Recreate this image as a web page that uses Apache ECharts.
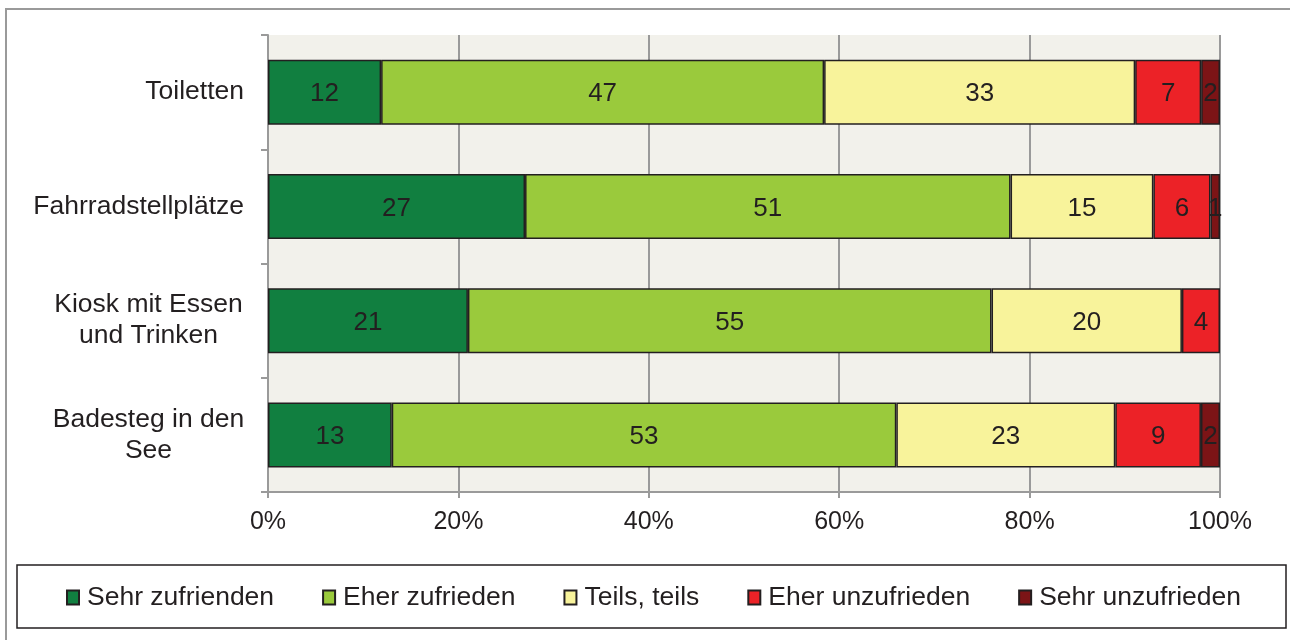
<!DOCTYPE html>
<html>
<head>
<meta charset="utf-8">
<script src="https://cdn.jsdelivr.net/npm/echarts@6/dist/echarts.min.js"></script>
<style>
  html, body { margin: 0; padding: 0; background: #fff; }
  #chart { width: 1290px; height: 640px; }
</style>
</head>
<body>
<div id="chart"></div>
<script>
// 类别（从上到下）
const categories = ['Toiletten', 'Fahrradstellplätze', 'Kiosk mit Essen\nund Trinken', 'Badesteg in den\nSee'];

// 图例 / 系列名称
const seriesNames = ['Sehr zufrienden', 'Eher zufrieden', 'Teils, teils', 'Eher unzufrieden', 'Sehr unzufrieden'];
const seriesColors = ['#117f40', '#9aca3c', '#f8f39b', '#ec2227', '#7c1416'];

// 各系列数值（百分比，按类别顺序）
const sehrZufrieden = [12, 27, 21, 13];
const eherZufrieden = [47, 51, 55, 53];
const teilsTeils = [33, 15, 20, 23];
const eherUnzufrieden = [7, 6, 4, 9];
const sehrUnzufrieden = [2, 1, null, 2];

// x轴刻度
const xTicks = [0, 20, 40, 60, 80, 100];

const allValues = [sehrZufrieden, eherZufrieden, teilsTeils, eherUnzufrieden, sehrUnzufrieden];

// 每个类别的合计，用于堆叠到100%
const totals = categories.map((c, i) => allValues.reduce((s, arr) => s + (arr[i] || 0), 0));

const textColor = '#231f20';
const fontFamily = "'Liberation Sans', Arial, sans-serif";

const chart = echarts.init(document.getElementById('chart'));

const series = allValues.map((arr, k) => ({
    name: seriesNames[k],
    type: 'bar',
    stack: 'total',
    barWidth: 65,
    data: arr.map((v, i) => (v == null ? null : { value: v / totals[i] * 100, raw: v })),
    itemStyle: {
        color: seriesColors[k],
        borderColor: textColor,
        borderWidth: 1.5
    },
    label: {
        show: true,
        position: 'inside',
        offset: [0, 2],
        color: textColor,
        fontSize: 26,
        fontFamily: fontFamily,
        formatter: p => (p.data && p.data.raw != null ? String(p.data.raw) : '')
    },
    emphasis: { disabled: true }
}));

const option = {
    backgroundColor: '#fff',
    animation: false,
    textStyle: { fontFamily: fontFamily },
    graphic: [
        {
            type: 'rect',
            shape: { x: 6, y: 9, width: 1400, height: 800 },
            style: { fill: 'none', stroke: '#9a9a9a', lineWidth: 2 },
            silent: true,
            z: -1
        },
        {
            type: 'rect',
            shape: { x: 17, y: 565, width: 1269, height: 63 },
            style: { fill: 'none', stroke: textColor, lineWidth: 1.5 },
            silent: true
        }
    ],
    grid: {
        left: 268,
        right: 70,
        top: 35,
        bottom: 148,
        show: true,
        backgroundColor: '#f2f1eb',
        borderWidth: 0
    },
    legend: {
        data: seriesNames,
        left: 66,
        top: 584,
        padding: 0,
        itemWidth: 12,
        itemHeight: 14,
        itemGap: 48,
        icon: 'rect',
        textStyle: { color: textColor, fontSize: 26.5, fontFamily: fontFamily, padding: [0, 0, 0, 3] },
        selectedMode: false
    },
    xAxis: {
        type: 'value',
        min: 0,
        max: 100,
        interval: 20,
        axisLine: { show: true, lineStyle: { color: '#9a9a9a', width: 2 } },
        axisTick: { show: true, length: 6, lineStyle: { color: '#9a9a9a', width: 2 } },
        axisLabel: {
            color: textColor,
            fontSize: 25,
            fontFamily: fontFamily,
            margin: 18,
            formatter: v => (xTicks.includes(v) ? v + '%' : '')
        },
        splitLine: { show: true, lineStyle: { color: '#9a9a9a', width: 2 } }
    },
    yAxis: {
        type: 'category',
        inverse: true,
        data: categories,
        axisLine: { show: true, lineStyle: { color: '#9a9a9a', width: 2 } },
        axisTick: { show: true, length: 7, lineStyle: { color: '#9a9a9a', width: 2 } },
        axisLabel: {
            color: textColor,
            fontSize: 26.5,
            fontFamily: fontFamily,
            margin: 24,
            formatter: v => {
                if (v.indexOf('\n') < 0) return v;
                return v.split('\n').map(s => '{m|' + s + '}').join('\n');
            },
            rich: {
                m: {
                    width: 191,
                    align: 'center',
                    fontSize: 26.5,
                    lineHeight: 31,
                    color: textColor,
                    fontFamily: fontFamily
                }
            }
        }
    },
    series: series
};

chart.setOption(option);
</script>
</body>
</html>
